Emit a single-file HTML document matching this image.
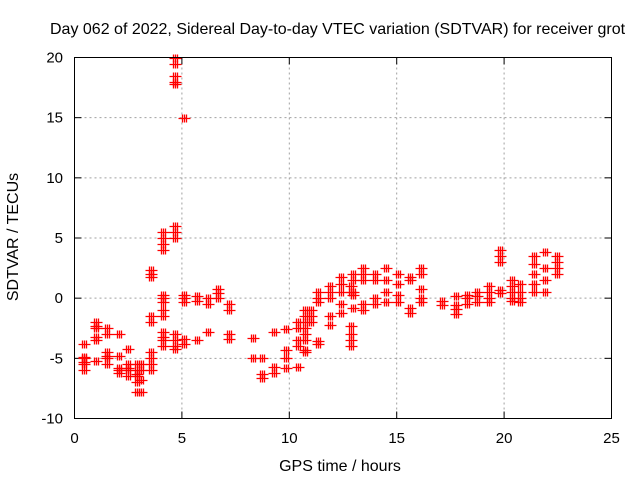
<!DOCTYPE html>
<html><head><meta charset="utf-8"><style>
body{margin:0;background:#fff}
svg{display:block;font-family:"Liberation Sans",sans-serif}
</style></head><body>
<svg id="c" width="640" height="480">
<text x="50" y="34" font-size="16" fill="#000">Day 062 of 2022, Sidereal Day-to-day VTEC variation (SDTVAR) for receiver grot</text>
<text x="340" y="471" font-size="16" text-anchor="middle">GPS time / hours</text>
<text transform="translate(18,237) rotate(-90)" font-size="16" text-anchor="middle">SDTVAR / TECUs</text>
<g id="grid"></g>
<g id="ticks"></g>
<g id="pts"></g>
<rect x="74.5" y="57.5" width="537" height="361" fill="none" stroke="#000"/>
</svg>
<script>
const xTicks=[0,5,10,15,20,25];
const yTicks=[-10,-5,0,5,10,15,20];
const times=[0.45,1.0,1.5,2.05,2.5,2.9,3.1,3.55,4.1,4.7,5.1,5.7,6.2,6.7,7.2,8.3,8.75,9.3,9.85,10.4,10.75,11.0,11.35,11.9,12.4,12.85,12.95,13.45,14.0,14.5,15.05,15.6,16.15,17.1,17.75,18.25,18.75,19.3,19.8,20.35,20.75,21.4,21.9,22.45];
const values=[
[-3.8,-4.9,-5,-5.3,-5.5,-6],
[-2,-2.3,-2.5,-3.2,-3.5,-5.2],
[-2.5,-3,-4.5,-4.8,-5,-5.5],
[-3,-4.8,-5.8,-6,-6.2],
[-4.2,-5.5,-5.8,-6,-6.5],
[-5.5,-6,-6.3,-6.5,-7,-7.8],
[-5.5,-6,-6.8,-7.8],
[2.3,2,1.8,-1.5,-2,-4.5,-5,-5.5,-6],
[5.5,5,4.5,4,0.3,0,-0.3,-1,-1.5,-2.8,-3.2,-3.5,-4],
[20,19.5,18.5,18,17.8,6,5.5,5,-3,-3.5,-4,-4.2],
[15,0.3,0,-0.3,-3.4,-3.8],
[0.2,-0.2,-3.5],
[0,-0.5,-2.8],
[0.8,0.4,0],
[-0.5,-1,-3,-3.4],
[-3.3,-5],
[-5,-6.3,-6.6],
[-2.8,-5.7,-6.2],
[-2.6,-4.3,-5,-5.8],
[-2,-2.5,-3.5,-4,-5.7],
[-1,-1.5,-2,-2.5,-3,-3.5,-4.3,-4.5],
[-1,-1.5,-2],
[0.5,0,-0.3,-3.6,-3.8],
[1,0.5,0,-1.5,-2.2],
[1.8,1.2,0.5,-0.5,-1.2],
[1,0.5,-2.3,-3,-3.5,-4],
[2,1.5,0.5,0.3,-0.8],
[2.5,2,1.5,-0.5,-1],
[2,1.5,0,-0.5],
[2.5,1.5,0.5,-0.3],
[2,1.2,0.3,-0.3],
[1.8,1.5,-0.8,-1.2],
[2.5,2,0.8,0,-0.3],
[-0.2,-0.6],
[0.2,-0.6,-0.9,-1.3],
[0.3,0,-0.5],
[0.5,0.2,-0.3],
[1,0.5,0,-0.3],
[4,3.5,3,0.7,0.4],
[1.5,1,0.5,0,-0.2],
[1.2,0.5,0,-0.3],
[3.5,2.8,2,1.2,0.5],
[3.8,2.5,1.5,0.5],
[3.5,3,2.5,2]
];
const X0=74.5,X1=611.5,Y0=418.5,Y1=57.5;
const xs=v=>X0+(v-0)/25*(X1-X0);
const ys=v=>Y0-(v+10)/30*(Y0-Y1);
const NS='http://www.w3.org/2000/svg';
function mk(tag,parent,attrs){const e=document.createElementNS(NS,tag);for(const k in attrs)e.setAttribute(k,attrs[k]);parent.appendChild(e);return e;}
const grid=document.getElementById('grid'),ticks=document.getElementById('ticks'),pts=document.getElementById('pts');
xTicks.forEach(t=>{const x=xs(t);
 if(t>0&&t<25){const g=mk('line',grid,{x1:x,x2:x,y1:Y1,y2:Y0,stroke:'#a0a0a0','stroke-dasharray':'2,3'});}
 mk('line',ticks,{x1:x,x2:x,y1:Y0,y2:Y0-7,stroke:'#000'});mk('line',ticks,{x1:x,x2:x,y1:Y1,y2:Y1+7,stroke:'#000'});
 const l=mk('text',ticks,{x:x,y:443,'font-size':15,'text-anchor':'middle'});l.textContent=t;
 
 
});
yTicks.forEach(t=>{const y=ys(t);
 if(t>-10&&t<20){const g=mk('line',grid,{x1:X0,x2:X1,y1:y,y2:y,stroke:'#a0a0a0','stroke-dasharray':'2,3'});}
 mk('line',ticks,{x1:X0,x2:X0+7,y1:y,y2:y,stroke:'#000'});mk('line',ticks,{x1:X1,x2:X1-7,y1:y,y2:y,stroke:'#000'});
 const l=mk('text',ticks,{x:63,y:y+5,'font-size':15,'text-anchor':'end'});l.textContent=t;
 
 
});
const offs=[-2,0,2];
times.forEach((t,i)=>{values[i].forEach(v=>{const cx=Math.round(xs(t))+0.5,y=Math.round(ys(v))+0.5;
 let d='';offs.forEach(o=>{const x=cx+o;d+=`M${x-4},${y}H${x+4}M${x},${y-4}V${y+4}`;});
 const p=mk('path',pts,{d:d,stroke:'#ff0000','stroke-width':1.3,fill:'none'});
 
 
});});
</script>
</body></html>
